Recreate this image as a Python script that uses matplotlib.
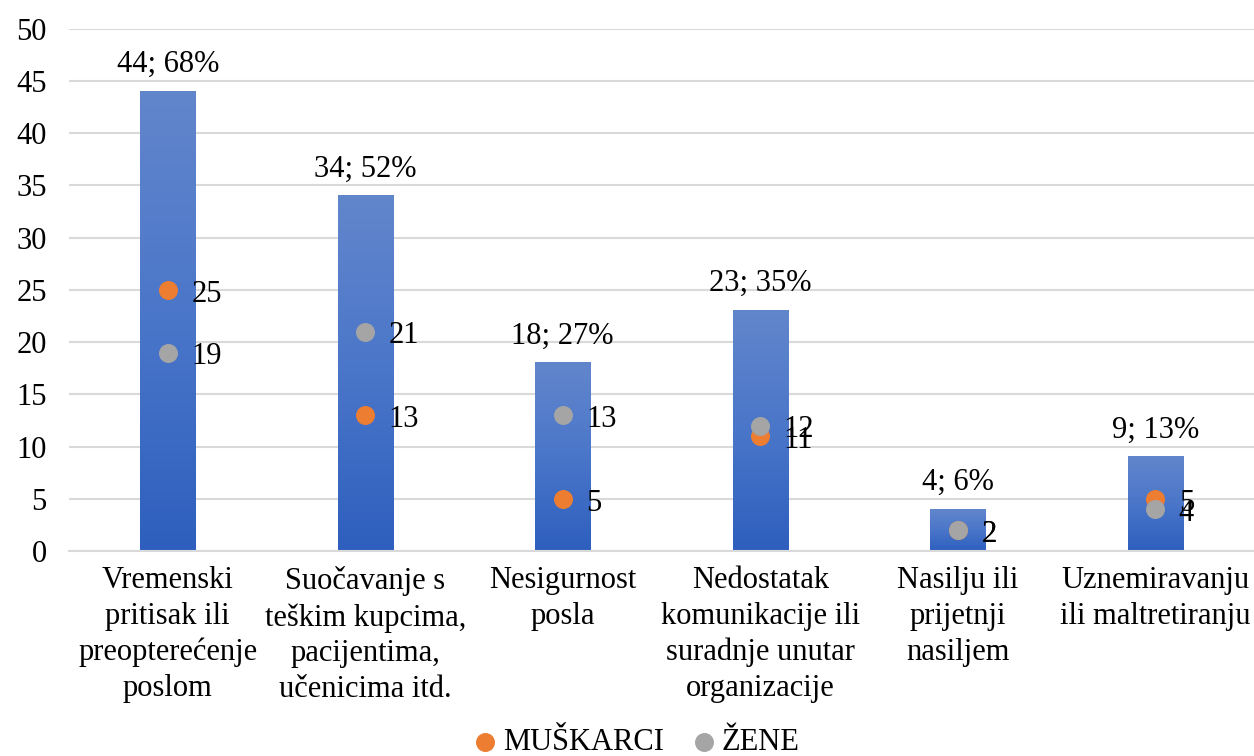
import numpy as np
import matplotlib.pyplot as plt
from matplotlib.colors import LinearSegmentedColormap

categories = ["Vremenski\npritisak ili\npreopterećenje\nposlom",
              "Suočavanje s\nteškim kupcima,\npacijentima,\nučenicima itd.",
              "Nesigurnost\nposla",
              "Nedostatak\nkomunikacije ili\nsuradnje unutar\norganizacije",
              "Nasilju ili\nprijetnji\nnasiljem",
              "Uznemiravanju\nili maltretiranju"]
totals = [44, 34, 18, 23, 4, 9]
percents = [68, 52, 27, 35, 6, 13]
muskarci = [25, 13, 5, 11, 2, 5]
zene = [19, 21, 13, 12, 2, 4]

plt.rcParams["font.family"] = ["Liberation Serif", "DejaVu Serif"]
fs = 22

fig = plt.figure(figsize=(12.54, 7.56), dpi=100)
ax = fig.add_axes([0.055, 0.271, 0.945, 0.691])

x = np.arange(len(categories))
w = 0.28
cmap = LinearSegmentedColormap.from_list("bar", ["#2E5FBE", "#4A76C9", "#6286CC"])
grad = np.linspace(0, 1, 256).reshape(-1, 1)
for xi, h, p in zip(x, totals, percents):
    ax.imshow(grad, extent=[xi - w / 2, xi + w / 2, 0, h], origin="lower",
              cmap=cmap, aspect="auto", zorder=2)
    ax.annotate(f"{h}; {p}%", (xi, h), xytext=(0, 9), textcoords="offset points",
                ha="center", va="bottom", fontsize=fs)

ax.scatter(x, muskarci, s=160, color="#ED7D31", zorder=4, label="MUŠKARCI")
ax.scatter(x, zene, s=160, color="#A5A5A5", zorder=5, label="ŽENE")
for xi, v in zip(x, zene):
    ax.annotate(str(v), (xi, v), xytext=(17, -3), textcoords="offset points",
                ha="left", va="center", fontsize=fs, zorder=6)
for xi, v in zip(x, muskarci):
    ax.annotate(str(v), (xi, v), xytext=(17, -3), textcoords="offset points",
                ha="left", va="center", fontsize=fs, zorder=6)

ax.set_xlim(-0.5, len(categories) - 0.5)
ax.set_ylim(0, 50)
ax.set_yticks(range(0, 51, 5))
ax.set_xticks(x)
ax.set_xticklabels(categories, fontsize=fs, linespacing=1.3)
ax.tick_params(axis="y", labelsize=fs, length=0, pad=16)
ax.tick_params(axis="x", length=0, pad=11)
ax.grid(axis="y", color="#D9D9D9", linewidth=1.5, zorder=0)
ax.set_axisbelow(True)
for s in ["top", "right", "left"]:
    ax.spines[s].set_visible(False)
ax.spines["bottom"].set_color("#D9D9D9")
ax.spines["bottom"].set_linewidth(1.5)

fig.legend(loc="lower center", bbox_to_anchor=(0.5, -0.038), ncol=2, frameon=False,
           fontsize=fs, handletextpad=-0.4, columnspacing=0.3, markerscale=1.0)

fig.savefig("out.png", dpi=100)
